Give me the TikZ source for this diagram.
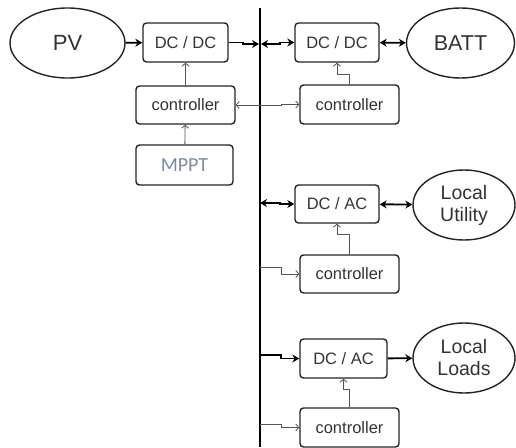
\documentclass[tikz,border=0pt]{standalone}
\usepackage{fontspec}
\setmainfont{Liberation Sans}
\newfontfamily\mpptfont{Carlito}
\usetikzlibrary{shapes.geometric,arrows.meta,calc}
\definecolor{boxline}{RGB}{35,35,35}
\definecolor{thinline}{RGB}{85,85,85}
\definecolor{mpptcol}{RGB}{125,138,160}
\tikzset{
  box/.style={draw=boxline, line width=1.4pt, rounded corners=3.5pt, inner sep=0pt, font=\fontsize{16.5}{18}\selectfont, text=black!80},
  oval/.style={draw=boxline, ellipse, line width=1.4pt, inner sep=0pt, align=center, text=black!80},
  power/.style={line width=1.9pt, black},
  ptip/.style={-{Stealth[length=7pt,width=8pt]}},
  pboth/.style={{Stealth[length=7pt,width=8pt]}-{Stealth[length=7pt,width=8pt]}},
  signal/.style={line width=0.8pt, thinline, -{Straight Barb[length=3pt,width=7pt]}},
  signalboth/.style={line width=0.8pt, thinline, {Straight Barb[length=3pt,width=7pt]}-{Straight Barb[length=3pt,width=7pt]}},
}
\begin{document}
\begin{tikzpicture}[x=1pt,y=-1pt]
\useasboundingbox (0,0) rectangle (516,447);
% bus
\coordinate (busTop) at (260,8);
\coordinate (busBot) at (260,447);
\draw[line width=2.6pt, black] (busTop) -- (busBot);
% nodes
\node[oval, minimum width=115, minimum height=70, font=\fontsize{22}{24}\selectfont] (pv) at (67.5,43) {PV};
\node[box, minimum width=85, minimum height=39] (dcL) at (185.5,42.5) {DC / DC};
\node[box, minimum width=99, minimum height=38] (ctlL) at (185.5,105) {controller};
\node[box, minimum width=97, minimum height=40, font=\mpptfont\fontsize{20}{22}\selectfont, text=mpptcol] (mppt) at (184.5,165) {MPPT};
\node[box, minimum width=84, minimum height=39] (dcR) at (337,42.5) {DC / DC};
\node[oval, minimum width=108, minimum height=70, font=\fontsize{21.5}{24}\selectfont] (batt) at (460.5,43) {BATT};
\node[box, minimum width=99, minimum height=39] (ctlR) at (349.5,104.5) {controller};
\node[box, minimum width=84, minimum height=38] (dcaM) at (337,204) {DC / AC};
\node[oval, minimum width=102, minimum height=70, font=\fontsize{19.5}{22}\selectfont] (util) at (464,205) {Local\\Utility};
\node[box, minimum width=99, minimum height=38] (ctlM) at (349.5,274) {controller};
\node[box, minimum width=87, minimum height=39] (dcaB) at (343.5,358.5) {DC / AC};
\node[oval, minimum width=102, minimum height=70, font=\fontsize{19.5}{22}\selectfont] (loads) at (464,358) {Local\\Loads};
\node[box, minimum width=99, minimum height=39] (ctlB) at (349.5,427.5) {controller};
% bus taps
\coordinate (bA) at (259,44);
\coordinate (bB) at (261,44);
\coordinate (bC) at (260,203);
\coordinate (bD) at (260,267);
\coordinate (bE) at (260,355);
\coordinate (bF) at (260,424);
% power connectors
\draw[power, ptip] (pv) -- (dcL);
\draw[power, ptip] (dcL.east) -- ++(14,0) |- (bA);
\draw[power, pboth] (bB) -- ++(19,0) |- (dcR.west);
\draw[power, pboth] (dcR) -- (batt);
\draw[power, pboth] (bC) -- ++(20,0) |- (dcaM.west);
\draw[power, pboth] (dcaM) -- (util);
\draw[power, ptip] (bE) -- ++(21,0) |- (dcaB.west);
\draw[power, ptip] (dcaB) -- (loads);
% signal connectors
\draw[signal] (mppt) -- (ctlL);
\draw[signal] (ctlL) -- (dcL);
\draw[signalboth] (ctlL.east) -- ++(46,0) |- (ctlR.west);
\draw[signal] (ctlR.north) -- ++(0,-10) -| (dcR.south);
\draw[signal] (bD) -- ++(21,0) |- (ctlM.west);
\draw[signal] (ctlM.north) -- ++(0,-20) -| (dcaM.south);
\draw[signal] (bF) -- ++(21,0) |- (ctlB.west);
\draw[signal] (ctlB.north) -- ++(0,-18) -| (dcaB.south);
\end{tikzpicture}
\end{document}
